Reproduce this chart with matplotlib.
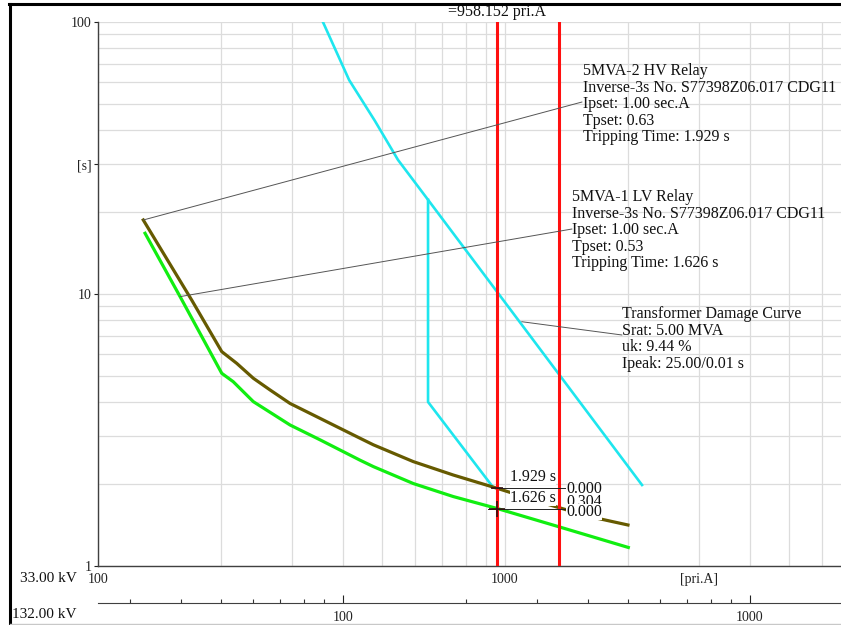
import matplotlib
matplotlib.use('Agg')
import matplotlib.pyplot as plt
from matplotlib.ticker import LogLocator, NullFormatter, FixedLocator, FixedFormatter
from matplotlib.lines import Line2D
import matplotlib.transforms as mtransforms

plt.rcParams['font.family'] = ['Liberation Serif', 'DejaVu Serif']

# ---------------- data ----------------
# 5MVA-2 HV relay curve (brown), current in pri.A @33 kV, time in s
hv_I = [129.2, 169.9, 201.4, 219.2, 240.8, 264.6, 296.3, 351.2, 440.2, 474.8,
        595.2, 746.4, 958.2, 1290, 1618, 2005]
hv_t = [18.71, 9.50, 6.14, 5.56, 4.90, 4.44, 3.96, 3.49, 2.95, 2.79,
        2.42, 2.16, 1.929, 1.676, 1.518, 1.415]

# 5MVA-1 LV relay curve (green)
lv_I = [130.5, 159.1, 201.4, 214.9, 240.8, 296.3, 351.2, 440.2, 474.8,
        595.2, 746.4, 958.2, 1365, 2009]
lv_t = [16.72, 9.78, 5.11, 4.76, 4.02, 3.30, 2.91, 2.45, 2.32,
        2.01, 1.80, 1.626, 1.39, 1.17]

# Transformer damage curve (cyan)
dmg_I = [357, 414, 479, 546, 647, 2171]
dmg_t = [100, 61.2, 43.3, 31.1, 22.2, 1.985]
dmg_branch_I = [647, 647, 934]
dmg_branch_t = [22.2, 4.01, 1.95]

# Fault current markers (red)
fault_I = [958.152, 1357]
trip_hv = 1.929
trip_lv = 1.626

xlim = (100, 6692)
ylim = (1, 100)
ratio_132 = 4.0  # 132 kV / 33 kV

hv_label = ("5MVA-2 HV Relay\nInverse-3s No. S77398Z06.017 CDG11\n"
            "Ipset: 1.00 sec.A\nTpset: 0.63\nTripping Time: 1.929 s")
lv_label = ("5MVA-1 LV Relay\nInverse-3s No. S77398Z06.017 CDG11\n"
            "Ipset: 1.00 sec.A\nTpset: 0.53\nTripping Time: 1.626 s")
dmg_label = ("Transformer Damage Curve\nSrat: 5.00 MVA\nuk: 9.44 %\n"
             "Ipeak: 25.00/0.01 s")

# ---------------- figure ----------------
W, H = 841, 625
fig = plt.figure(figsize=(W / 100, H / 100), dpi=100)
L, R, B, T = 98, 841, 566, 22
ax = fig.add_axes([L / W, (H - B) / H, (R - L) / W, (B - T) / H])
ax.set_xscale('log')
ax.set_yscale('log')
ax.set_xlim(*xlim)
ax.set_ylim(*ylim)

def px(x, y):
    return ((x - L) / (R - L), (B - y) / (B - T))

gridc = '#dcdcdc'
ax.xaxis.set_major_locator(FixedLocator([100, 1000, 3000]))
ax.xaxis.set_major_formatter(FixedFormatter(['100', '1000', '[pri.A]']))
ax.xaxis.set_minor_locator(LogLocator(base=10, subs=range(2, 10), numticks=20))
ax.xaxis.set_minor_formatter(NullFormatter())
ax.yaxis.set_major_locator(FixedLocator([1, 10, 30, 100]))
ax.yaxis.set_major_formatter(FixedFormatter(['1', '10', '[s]', '100']))
ax.yaxis.set_minor_locator(LogLocator(base=10, subs=range(2, 10), numticks=20))
ax.yaxis.set_minor_formatter(NullFormatter())
ax.grid(True, which='both', color=gridc, lw=0.9, zorder=0)
ax.set_axisbelow(True)
ax.tick_params(axis='x', which='both', length=0, pad=5, labelsize=10, colors='#222222')
ax.tick_params(axis='y', which='major', length=3, width=0.8, pad=1.5, labelsize=10,
               colors='#222222')
ax.tick_params(axis='y', which='minor', length=0)
for s in ['top', 'right']:
    ax.spines[s].set_visible(False)
for s in ['left', 'bottom']:
    ax.spines[s].set_color('#404040')
    ax.spines[s].set_linewidth(1.0)

# curves
ax.plot(dmg_I, dmg_t, color='#1ee6ee', lw=1.9, zorder=3)
ax.plot(dmg_branch_I, dmg_branch_t, color='#1ee6ee', lw=1.9, zorder=3)
ax.plot(hv_I, hv_t, color='#665a00', lw=2.3, zorder=4)
ax.plot(lv_I, lv_t, color='#11ee11', lw=2.3, zorder=4)
for fi in fault_I:
    ax.axvline(fi, color='#ff1010', lw=2.2, zorder=5)

# leader lines + annotation blocks
lead = dict(arrowstyle='-', color='#555555', lw=0.7, shrinkA=0, shrinkB=0)
ax.annotate('', xy=(hv_I[0], hv_t[0]), xytext=px(582, 102),
            textcoords='axes fraction', arrowprops=lead, zorder=6)
ax.annotate('', xy=(lv_I[1], lv_t[1]), xytext=px(572, 229),
            textcoords='axes fraction', arrowprops=lead, zorder=6)
ax.annotate('', xy=(1099, 7.91), xytext=px(622, 335),
            textcoords='axes fraction', arrowprops=lead, zorder=6)

FS = 11.5
tkw = dict(transform=ax.transAxes, ha='left', va='top', fontsize=FS,
           linespacing=1.05, color='#111111', zorder=7)
ax.text(*px(583, 63), hv_label, **tkw)
ax.text(*px(572, 189), lv_label, **tkw)
ax.text(*px(622, 306), dmg_label, **tkw)

# value labels near the fault line
wb = dict(facecolor='white', edgecolor='none', pad=0.2)
skw = dict(transform=ax.transAxes, fontsize=FS, color='#111111', zorder=8,
           va='center', ha='left')
ax.plot([fault_I[0], 1404], [trip_hv, trip_hv], color='#222222', lw=0.7, zorder=6)
ax.plot([907, 1404], [trip_lv, trip_lv], color='#222222', lw=0.7, zorder=6)
ax.text(*px(510, 477), '%.3f s' % trip_hv, bbox=wb, **skw)
ax.text(*px(510, 498), '%.3f s' % trip_lv, bbox=wb, **skw)
ax.text(*px(566, 502), '0.304', bbox=wb, **skw)
ax.text(*px(566, 512), '0.000', bbox=wb, **skw)
ax.text(*px(566, 489), '0.000', **skw)
ax.plot([fault_I[0]], [trip_lv], marker='+', ms=12, mew=1.2, color='#331111', zorder=9)
ax.plot([fault_I[0]], [trip_hv], marker='_', ms=8, mew=1.2, color='#331111', zorder=9)

trans = mtransforms.blended_transform_factory(ax.transData, ax.transAxes)
ax.text(fault_I[0], px(0, 12)[1], '=%.3f pri.A' % fault_I[0], transform=trans,
        ha='center', va='center', fontsize=FS, color='#111111', clip_on=False,
        bbox=dict(facecolor='white', edgecolor='none', pad=0.5), zorder=8)

# secondary 132 kV scale
ax2 = fig.add_axes([L / W, (H - 603) / H, (R - L) / W, 0.0001])
ax2.set_xscale('log')
ax2.set_xlim(xlim[0] / ratio_132, xlim[1] / ratio_132)
ax2.set_yticks([])
for s in ['left', 'right', 'top']:
    ax2.spines[s].set_visible(False)
ax2.spines['bottom'].set_color('#404040')
ax2.xaxis.set_major_locator(FixedLocator([100, 1000]))
ax2.xaxis.set_major_formatter(FixedFormatter(['100', '1000']))
ax2.xaxis.set_minor_locator(LogLocator(base=10, subs=range(2, 10), numticks=20))
ax2.xaxis.set_minor_formatter(NullFormatter())
ax2.tick_params(axis='x', which='major', direction='in', length=6, width=0.8,
                pad=6, labelsize=10, colors='#222222')
ax2.tick_params(axis='x', which='minor', direction='in', length=3, width=0.8,
                colors='#333333')

fig.text(20 / W, 1 - 579 / H, '33.00 kV', ha='left', va='center', fontsize=11,
         color='#111111')
fig.text(12 / W, 1 - 615 / H, '132.00 kV', ha='left', va='center', fontsize=11,
         color='#111111')

# outer frame
fig.add_artist(Line2D([10 / W, 10 / W], [0, 1 - 4 / H], color='black', lw=2.2,
                      transform=fig.transFigure))
fig.add_artist(Line2D([9 / W, 1], [1 - 4 / H, 1 - 4 / H], color='black', lw=2.2,
                      transform=fig.transFigure))
fig.add_artist(Line2D([10 / W, 1], [1.5 / H, 1.5 / H], color='#c8c8c8', lw=1,
                      transform=fig.transFigure))

fig.savefig('out.png', dpi=100)
